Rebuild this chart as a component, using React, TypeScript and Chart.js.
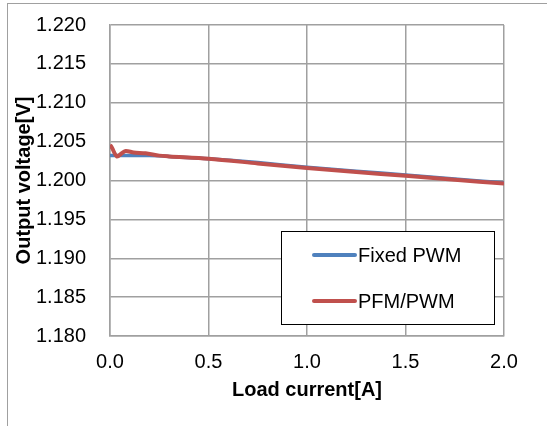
import React, { useEffect, useRef } from "react";
import { Chart, registerables } from "chart.js";

Chart.register(...registerables);

const fixedX = [0, 0.05, 0.1, 0.2, 0.3, 0.5, 0.75, 1.0, 1.25, 1.5, 1.75, 2.0];
const fixedY = [1.2032, 1.2032, 1.2032, 1.2032, 1.2031, 1.2028, 1.2023, 1.2017, 1.2012, 1.2007, 1.2002, 1.1997];

const pfmX = [0, 0.01, 0.035, 0.06, 0.08, 0.12, 0.18, 0.25, 0.3, 0.5, 0.75, 1.0, 1.25, 1.5, 1.75, 2.0];
const pfmY = [1.2046, 1.2042, 1.2031, 1.2035, 1.2038, 1.2036, 1.2035, 1.2032, 1.2031, 1.2028, 1.2022, 1.2016, 1.2011, 1.2006, 1.2001, 1.1996];

const seriesNames = ["Fixed PWM", "PFM/PWM"];
const seriesColors = ["#4F81BD", "#C0504D"];

const xTicks = [0, 0.5, 1.0, 1.5, 2.0];
const yMin = 1.18;
const yMax = 1.22;
const yStep = 0.005;

const FONT = "'Liberation Sans', Arial, sans-serif";

const legendPlugin = {
  id: "boxLegend",
  afterDatasetsDraw(chart: any) {
    const ctx = chart.ctx;
    const x0 = 281, y0 = 231, w = 213, h = 93;
    ctx.save();
    ctx.fillStyle = "#ffffff";
    ctx.fillRect(x0, y0, w, h);
    ctx.strokeStyle = "#000000";
    ctx.lineWidth = 1;
    ctx.strokeRect(x0 + 0.5, y0 + 0.5, w, h);
    const rows = [255, 301];
    chart.data.datasets.forEach((ds: any, i: number) => {
      const y = rows[i];
      ctx.strokeStyle = ds.borderColor;
      ctx.lineWidth = 4;
      ctx.lineCap = "round";
      ctx.beginPath();
      ctx.moveTo(314, y);
      ctx.lineTo(355, y);
      ctx.stroke();
      ctx.fillStyle = "#000000";
      ctx.font = `20px ${FONT}`;
      ctx.textBaseline = "middle";
      ctx.textAlign = "left";
      ctx.fillText(ds.label, 358, y + 1);
    });
    ctx.restore();
  },
};

export default function App() {
  const ref = useRef<HTMLCanvasElement | null>(null);

  useEffect(() => {
    document.body.style.margin = "0";
    const canvas = ref.current!;
    const chart = new Chart(canvas, {
      type: "line",
      data: {
        datasets: [
          {
            label: seriesNames[0],
            data: fixedX.map((x, i) => ({ x, y: fixedY[i] })),
            borderColor: seriesColors[0],
            backgroundColor: seriesColors[0],
            borderWidth: 3.5,
            pointRadius: 0,
            tension: 0.3,
            order: 1,
          },
          {
            label: seriesNames[1],
            data: pfmX.map((x, i) => ({ x, y: pfmY[i] })),
            borderColor: seriesColors[1],
            backgroundColor: seriesColors[1],
            borderWidth: 4,
            pointRadius: 0,
            tension: 0.3,
            order: 0,
          },
        ],
      },
      options: {
        responsive: false,
        animation: false,
        layout: { autoPadding: false, padding: { left: 0, top: 25, right: 43, bottom: 0 } },
        plugins: {
          legend: { display: false },
          tooltip: { enabled: false },
        },
        scales: {
          x: {
            type: "linear",
            min: 0,
            max: 2,
            afterFit: (s: any) => {
              s.height = 90;
              s.paddingLeft = 0;
              s.paddingRight = 0;
            },
            afterBuildTicks: (s: any) => { s.ticks = xTicks.map((v) => ({ value: v })); },
            ticks: {
              padding: 14,
              color: "#000",
              font: { family: FONT, size: 20 },
              callback: (v: any) => Number(v).toFixed(1),
              maxRotation: 0,
            },
            grid: { color: "#A0A0A0", lineWidth: 1.5, drawTicks: false },
            border: { color: "#A0A0A0", width: 1.5 },
            title: {
              display: true,
              text: "Load current[A]",
              color: "#000",
              font: { family: FONT, size: 20, weight: "bold" },
              padding: { top: 0, bottom: 24 },
            },
          },
          y: {
            type: "linear",
            min: yMin,
            max: yMax,
            afterFit: (s: any) => {
              s.width = 110;
              s.paddingTop = 0;
              s.paddingBottom = 0;
            },
            ticks: {
              stepSize: yStep,
              padding: 24,
              color: "#000",
              font: { family: FONT, size: 20 },
              callback: (v: any) => Number(v).toFixed(3),
            },
            grid: { color: "#A0A0A0", lineWidth: 1.5, drawTicks: false },
            border: { color: "#A0A0A0", width: 1.5 },
            title: {
              display: true,
              text: "Output voltage[V]",
              color: "#000",
              font: { family: FONT, size: 20, weight: "bold" },
              padding: { top: 12, bottom: 0 },
            },
          },
        },
      },
      plugins: [legendPlugin],
    });
    return () => chart.destroy();
  }, []);

  return (
    <div style={{ position: "relative", width: 547, height: 426, background: "#fff", overflow: "hidden" }}>
      <div
        style={{
          position: "absolute",
          left: 7,
          top: 3,
          width: 600,
          height: 500,
          borderLeft: "1.5px solid #A0A0A0",
          borderTop: "1.5px solid #A0A0A0",
          pointerEvents: "none",
        }}
      />
      <canvas ref={ref} width={547} height={426} style={{ position: "absolute", left: 0, top: 0, width: 547, height: 426 }} />
    </div>
  );
}
